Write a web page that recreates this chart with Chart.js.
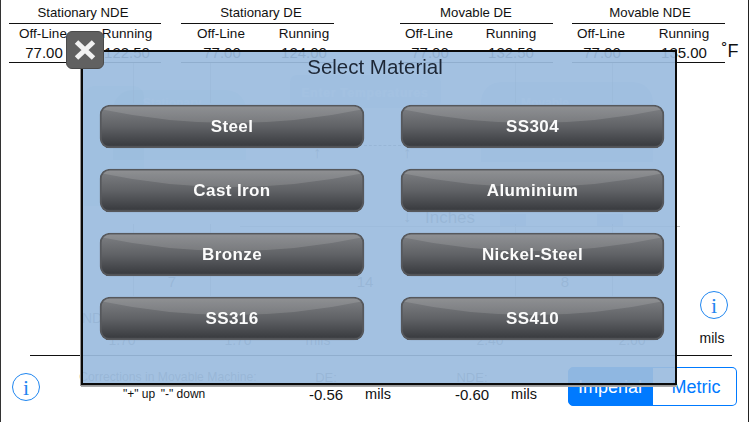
<!DOCTYPE html>
<html><head><meta charset="utf-8">
<style>
html,body{margin:0;padding:0;background:#fff;width:750px;height:422px;overflow:hidden;font-family:"Liberation Sans",Arial,sans-serif;color:#111}
.t{position:absolute;transform:translate(-50%,-50%);white-space:nowrap;line-height:1}
#panel{position:absolute;left:81px;top:50px;width:592px;height:331px;border:2.5px solid #0a0a0a;background:rgba(155,188,222,.92);box-shadow:-1px 1px 0 #999,0 2px 0 #aaa}
#chart{position:absolute;left:0;top:0;width:750px;height:422px}
#frame{position:absolute;left:0;top:0;width:747px;height:422px;border-left:1.5px solid #333;border-right:1.5px solid #222}
.box{position:absolute}
</style></head>
<body>
<div id="frame"></div>
<div id="page"></div>
<div id="panel"></div>
<canvas id="chart" width="750" height="422"></canvas>
<div id="top"></div>
<script src="https://cdn.jsdelivr.net/npm/chart.js@4"></script>
<script>
const leftMaterials = ["Steel","Cast Iron","Bronze","SS316"];
const rightMaterials = ["SS304","Aluminium","Nickel-Steel","SS410"];
const leftButtonSpan = [100,364];
const rightButtonSpan = [401,664];
const axisRange = [0,750];
const headerTitles = ["Stationary NDE","Stationary DE","Movable DE","Movable NDE"];
const offLineTemps = ["77.00","77.00","77.00","77.00"];
const runningTemps = ["122.50","124.00","132.50","135.00"];
const correctionValues = ["-0.56","-0.60"];

function put(parent,txt,x,y,size,color,extra){
  const d=document.createElement('div');d.className='t';d.textContent=txt;
  d.style.left=x+'px';d.style.top=y+'px';d.style.fontSize=size+'px';
  if(color)d.style.color=color;
  if(extra)Object.assign(d.style,extra);
  parent.appendChild(d);return d;
}
function shape(parent,x,y,w,h,css){
  const d=document.createElement('div');d.className='box';
  Object.assign(d.style,{left:x+'px',top:y+'px',width:w+'px',height:h+'px'},css||{});
  parent.appendChild(d);return d;
}
const page=document.getElementById('page');
const topLayer=document.getElementById('top');

/* table header */
const groupX=[[9,161],[181,334],[400,553],[572,725]];
const titleX=[83,261,476,650], offX=[43,221,429,601], runX=[127,304,511,684];
headerTitles.forEach((s,i)=>{
  put(page,s,titleX[i],13,13.2);
  shape(page,groupX[i][0],23,groupX[i][1]-groupX[i][0],1.4,{background:'#111'});
  put(page,"Off-Line",offX[i],34,13.5);
  put(page,"Running",runX[i],34,13.5);
  put(page,offLineTemps[i],offX[i]+1,52,15);
  put(page,runningTemps[i],runX[i],52,15);
  shape(page,groupX[i][0],62,groupX[i][1]-groupX[i][0],1.4,{background:'#111'});
});
put(page,"˚F",730,51,18);

/* ghost diagram under the translucent panel */
const ghost='#777';
shape(page,84,86,60,120,{background:'#3f9a9a',opacity:.22,borderRadius:'10px 10px 0 0'});
shape(page,113,90,133,70,{background:'#3f9a9a',opacity:.22,borderRadius:'20px 20px 0 0'});
put(page,"Stationary",172,103,12,'#fff',{fontWeight:'bold'});
shape(page,290,75,151,33,{background:'#3a70b8',opacity:.18,borderRadius:'6px'});
put(page,"Enter Temperatures",365,93,12,'#fff',{fontWeight:'bold',letterSpacing:'.8px'});
shape(page,481,82,172,80,{background:'#3a70b8',opacity:.22,borderRadius:'20px 20px 0 0'});
put(page,"Movable",545,103,12,'#fff',{fontWeight:'bold'});
[133,210,515,612].forEach(x=>{
  shape(page,x,63,1,40,{background:'#888',opacity:.6});
  shape(page,x,224,1,72,{background:'#888',opacity:.6});
});
shape(page,364,145,37,0,{borderTop:'1px dashed #777'});
shape(page,240,226,440,1,{background:'#bbb'});
put(page,"Inches",450,217,17,ghost);
put(page,"7",172,281,15,ghost);put(page,"14",365,281,15,ghost);put(page,"8",565,281,15,ghost);
put(page,"↑",317,153,16,ghost);put(page,"↑",407,153,16,ghost);put(page,"↓",407,217,16,ghost);
shape(page,500,214,26,12,{background:'#3a70b8',opacity:.25});
shape(page,597,214,26,12,{background:'#3a70b8',opacity:.25});
put(page,"ND",92,318,14,ghost);
put(page,"1.70",122,340,14,ghost);put(page,"1.70",238,340,14,ghost);put(page,"mils",318,340,14,ghost);
put(page,"2.40",490,340,14,ghost);put(page,"2.60",632,340,14,ghost);
put(page,"Corrections in Movable Machine:",168,377,12.2,ghost);
put(page,"DE:",326,377,13,ghost);put(page,"NDE:",472,377,13,ghost);

/* bottom of page */
shape(page,30,354.5,702,1.4,{background:'#111'});
put(page,'"+" up',139,394,12);put(page,'"-" down',183,394,12);
put(page,correctionValues[0],326,394,15);put(page,"mils",378,394,14.5);
put(page,correctionValues[1],472,394,15);put(page,"mils",524,394,14.5);
put(page,"mils",712,338,14);

/* segmented control */
shape(page,568,367,85,37,{background:'#007aff',borderRadius:'5px 0 0 5px',border:'1px solid #007aff'});
shape(page,653,367,83,37,{background:'#fff',borderRadius:'0 5px 5px 0',border:'1px solid #007aff',borderLeft:'none'});
put(page,"Imperial",610,386.5,18,'#fff');
put(page,"Metric",696,386.5,18,'#007aff');

/* info icons */
function info(parent,cx,cy){
  shape(parent,cx-14,cy-14,26,26,{border:'1.5px solid #1f86f0',borderRadius:'50%'});
  put(parent,"i",cx,cy+0.5,22,'#1f86f0',{fontFamily:'"Liberation Serif",serif'});
}
info(page,26,387);info(page,714,305);

/* panel title and close button */
put(topLayer,"Select Material",375,67,20.5,'#1d2736');
shape(topLayer,66,31,36,36,{background:'#616161',borderRadius:'6px',border:'1.5px solid #4a4a4a'});
const svg=document.createElementNS('http://www.w3.org/2000/svg','svg');
svg.setAttribute('width','38');svg.setAttribute('height','38');
svg.style.cssText='position:absolute;left:66px;top:31px';
svg.innerHTML='<path d="M10.5 11 L27.5 27 M27.5 11 L10.5 27" stroke="#f2f2f2" stroke-width="5" stroke-linecap="butt"/>';
topLayer.appendChild(svg);

/* the buttons are floating bars */
function glossFill(ctx){
  const chart=ctx.chart, y=chart.scales.y;
  if(!y||ctx.dataIndex===undefined)return '#555';
  const cy=y.getPixelForValue(ctx.dataIndex), h=21.5;
  if(!isFinite(cy))return '#555';
  const g=chart.ctx.createLinearGradient(0,cy-h,0,cy+h);
  g.addColorStop(0,'#808285');g.addColorStop(.5,'#606266');
  g.addColorStop(.92,'#3c3e42');g.addColorStop(1,'#46484c');
  return g;
}
const buttonLabels={
  id:'buttonLabels',
  afterDatasetsDraw(chart){
    const c=chart.ctx;
    [leftMaterials,rightMaterials].forEach((names,ds)=>{
      chart.getDatasetMeta(ds).data.forEach((bar,i)=>{
        const p=bar.getProps(['x','y','base','height'],true);
        const L=p.base,R=p.x,T=p.y-p.height/2,B=p.y+p.height/2,cx=(L+R)/2;
        c.save();
        c.beginPath();c.roundRect(L+1,T+1,R-L-2,B-T-2,9);c.clip();
        c.beginPath();c.moveTo(L,T+4);c.quadraticCurveTo(cx,T+32,R,T+4);c.lineTo(R,T);c.lineTo(L,T);c.closePath();
        c.fillStyle='rgba(255,255,255,.13)';c.fill();
        c.restore();
        c.save();
        c.font='bold 17px "Liberation Sans",Arial,sans-serif';
        c.letterSpacing='0.4px';
        c.textAlign='center';c.textBaseline='middle';c.fillStyle='#fbfbfb';
        c.fillText(names[i],cx,p.y+0.5);
        c.restore();
      });
    });
  }
};
new Chart(document.getElementById('chart'),{
  type:'bar',
  data:{
    labels:leftMaterials,
    datasets:[
      {label:'Left',data:leftMaterials.map(()=>leftButtonSpan),grouped:false,backgroundColor:glossFill,borderColor:'#56585c',borderWidth:2,borderSkipped:false,borderRadius:10,barThickness:43},
      {label:'Right',data:rightMaterials.map(()=>rightButtonSpan),grouped:false,backgroundColor:glossFill,borderColor:'#56585c',borderWidth:2,borderSkipped:false,borderRadius:10,barThickness:43}
    ]
  },
  options:{
    indexAxis:'y',responsive:false,animation:false,
    layout:{padding:{top:94.5,bottom:71.5,left:0,right:0}},
    plugins:{legend:{display:false},tooltip:{enabled:false},title:{display:false}},
    scales:{
      x:{type:'linear',min:axisRange[0],max:axisRange[1],display:false},
      y:{type:'category',display:false,offset:true}
    }
  },
  plugins:[buttonLabels]
});
</script>
</body></html>
